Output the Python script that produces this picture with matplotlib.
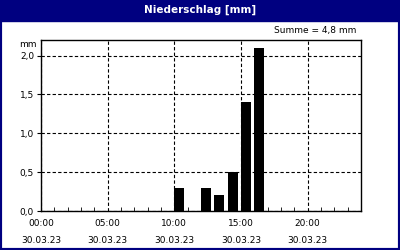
import matplotlib.pyplot as plt
from matplotlib.patches import Rectangle
from matplotlib.ticker import MultipleLocator, FuncFormatter

# hourly precipitation, 30.03.23
hours = [10, 12, 13, 14, 15, 16]
precip = [0.3, 0.3, 0.2, 0.5, 1.4, 2.1]
date_label = "30.03.23"
title = "Niederschlag [mm]"
navy = "#000080"

fig = plt.figure(figsize=(4, 2.5), dpi=100)
fig.patch.set_facecolor("white")

# frame and title bar
fig.add_artist(Rectangle((0, 0), 1, 1, transform=fig.transFigure,
                         facecolor="none", edgecolor=navy, linewidth=3))
fig.add_artist(Rectangle((0, 1 - 21 / 250), 1, 21 / 250, transform=fig.transFigure,
                         facecolor=navy, edgecolor=navy))
fig.text(0.5, 1 - 10 / 250, title, color="white", fontsize=7.5,
         fontweight="bold", ha="center", va="center")

ax = fig.add_axes([41 / 400, 39 / 250, 320 / 400, 171 / 250])
ax.bar(hours, precip, width=0.75, align="edge", color="black")

ax.set_xlim(0, 24)
ax.set_ylim(0, 2.2)
ax.xaxis.set_major_locator(MultipleLocator(5))
ax.xaxis.set_minor_locator(MultipleLocator(1))
ax.yaxis.set_major_locator(MultipleLocator(0.5))
ax.xaxis.set_major_formatter(FuncFormatter(
    lambda v, p: "%02d:00\n\n%s" % (int(v), date_label)))
ax.yaxis.set_major_formatter(FuncFormatter(
    lambda v, p: ("%.1f" % v).replace(".", ",")))
ax.tick_params(axis="x", which="major", length=0, pad=6, labelsize=6.5)
ax.tick_params(axis="x", which="minor", direction="in", length=3)
ax.tick_params(axis="y", length=3, labelsize=6.5, pad=2)
for lab in ax.get_xticklabels():
    lab.set_linespacing(0.9)
ax.grid(True, which="major", color="black", linestyle=(0, (3, 2)), linewidth=0.8)
ax.set_axisbelow(True)
for s in ax.spines.values():
    s.set_linewidth(1)

fig.text(37 / 400, 1 - 45 / 250, "mm", fontsize=6.5, ha="right", va="center")
fig.text(356 / 400, 1 - 30 / 250, "Summe = %s mm" % ("%.1f" % sum(precip)).replace(".", ","),
         fontsize=6.5, ha="right", va="center")

fig.savefig("out.png", dpi=100)
